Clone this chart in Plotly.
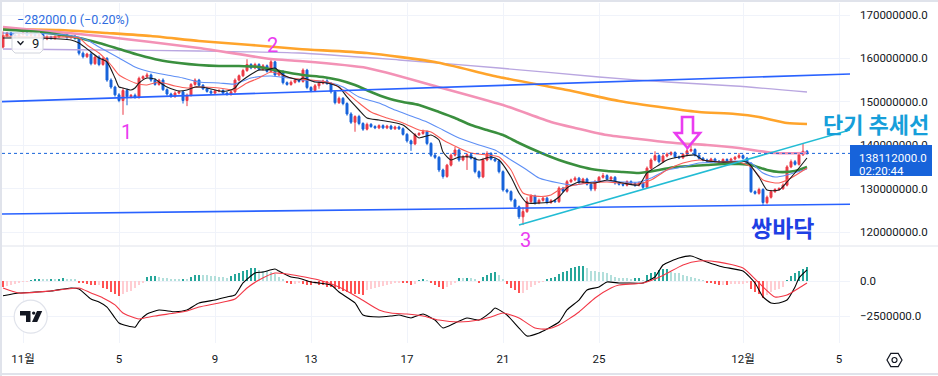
import pandas as pd
import plotly.graph_objects as go

# ---------------- data (prices in millions of KRW) ----------------
START = "2025-10-31 04:00"          # first visible 4h candle
FIRST_OPEN = 162.6
CLOSE = [
    165.2, 165.8, 165.4, 165.0, 165.5, 165.8, 165.3, 165.6, 165.2, 165.5,
    164.5, 164.9, 164.6, 165.0, 165.3, 165.4, 164.8, 165.1, 164.6, 161.2,
    160.4, 161.0, 158.8, 160.3, 158.6, 160.0, 155.0, 153.4, 151.6, 150.3,
    152.6, 151.2, 151.5, 151.0, 155.4, 155.8, 156.2, 155.0, 154.0, 155.0,
    152.8, 151.8, 151.2, 152.0, 152.3, 150.3, 151.5, 154.0, 155.0, 153.8,
    153.0, 152.4, 152.0, 152.5, 152.6, 152.0, 151.7, 152.3, 155.0, 156.0,
    157.2, 158.6, 157.8, 158.6, 157.5, 158.3, 157.0, 159.2, 156.2, 157.0,
    154.4, 154.0, 154.5, 155.0, 154.7, 157.3, 153.3, 152.6, 153.7, 154.3,
    154.8, 154.2, 152.3, 149.8, 150.8, 149.6, 147.2, 145.3, 146.6, 145.0,
    143.7, 144.8, 144.3, 144.0, 144.5, 144.0, 144.4, 143.8, 144.2, 143.8,
    142.5, 141.0, 140.3, 142.4, 142.7, 143.1, 140.4, 137.7, 137.2, 134.3,
    132.8, 135.4, 137.7, 138.9, 136.6, 137.3, 137.8, 137.0, 133.9, 132.7,
    136.6, 138.1, 136.8, 136.4, 133.9, 129.7, 129.3, 127.4, 125.8, 123.5,
    124.7, 127.0, 128.3, 126.7, 127.3, 127.8, 126.8, 127.2, 127.0, 130.1,
    129.4, 131.6, 132.0, 132.4, 131.4, 132.2, 131.0, 129.9, 131.6, 132.6,
    133.0, 132.2, 132.6, 131.3, 131.0, 130.8, 131.6, 131.2, 130.8, 131.3,
    130.3, 134.7, 136.6, 137.6, 136.2, 137.5, 137.9, 138.3, 137.3, 137.1,
    137.9, 138.7, 139.0, 137.7, 137.0, 136.6, 136.3, 136.8, 136.3, 136.2,
    136.7, 136.4, 136.8, 137.2, 137.6, 137.0, 135.8, 129.3, 128.9, 129.8,
    126.8, 128.0, 129.3, 129.8, 130.0, 130.8, 135.0, 136.2, 135.6, 137.8,
    138.6, 138.112,
]
UPPER_WICK = [
    1.0, 0.3, 0.3, 0.4, 0.3, 0.2, 0.3, 0.4, 0.3, 0.2,
    0.3, 0.4, 0.3, 0.3, 0.4, 0.3, 0.3, 0.2, 0.3, 0.3,
    0.4, 0.3, 0.5, 0.3, 0.4, 0.3, 0.3, 0.4, 0.3, 0.4,
    0.6, 0.5, 0.3, 0.4, 0.4, 0.3, 0.5, 0.3, 0.4, 0.3,
    0.4, 0.3, 0.3, 0.4, 0.3, 0.3, 0.4, 0.3, 0.4, 0.3,
    0.3, 0.3, 0.4, 0.3, 0.3, 0.3, 0.3, 0.3, 0.4, 0.3,
    0.4, 1.2, 0.3, 0.4, 0.3, 0.4, 0.3, 0.8, 0.3, 0.4,
    0.3, 0.3, 0.4, 0.3, 0.3, 0.4, 0.3, 0.3, 0.4, 0.5,
    0.3, 0.4, 0.3, 0.3, 0.4, 0.3, 0.3, 0.4, 0.3, 0.4,
    0.3, 0.4, 0.3, 0.3, 0.3, 0.3, 0.3, 0.3, 0.3, 0.3,
    0.3, 0.3, 0.3, 0.4, 0.3, 0.5, 0.3, 0.3, 0.3, 0.3,
    0.3, 0.3, 0.4, 0.7, 0.3, 0.4, 0.3, 0.4, 0.3, 0.3,
    0.5, 0.5, 0.3, 0.3, 0.3, 0.3, 0.3, 0.3, 0.3, 0.3,
    1.0, 1.0, 0.4, 0.3, 0.4, 0.3, 0.3, 0.4, 0.3, 0.4,
    0.3, 0.4, 0.3, 0.4, 0.3, 0.3, 0.3, 0.3, 0.4, 0.3,
    0.6, 0.3, 0.3, 0.3, 0.3, 0.3, 0.3, 0.3, 0.3, 0.3,
    0.3, 0.4, 0.4, 1.0, 0.3, 0.4, 0.4, 0.3, 0.3, 0.3,
    0.3, 0.9, 1.0, 0.3, 0.3, 0.3, 0.3, 0.3, 0.3, 0.3,
    0.3, 0.3, 0.3, 0.3, 0.6, 0.3, 0.3, 0.3, 0.3, 0.4,
    0.3, 0.4, 0.4, 0.3, 0.3, 0.4, 0.4, 0.5, 0.4, 0.5,
    1.7, 0.3,
]
LOWER_WICK = [
    0.3, 0.3, 0.3, 0.3, 0.3, 0.3, 0.3, 0.3, 0.3, 0.3,
    0.3, 0.3, 0.3, 0.3, 0.3, 0.3, 0.3, 0.3, 0.3, 0.5,
    0.4, 0.3, 0.4, 0.3, 0.4, 0.3, 0.4, 0.4, 0.4, 0.4,
    3.3, 2.0, 0.4, 0.3, 0.3, 0.3, 0.3, 0.4, 0.3, 0.3,
    0.3, 0.4, 0.3, 0.3, 0.3, 0.7, 1.3, 0.3, 0.3, 0.3,
    0.3, 0.3, 0.3, 0.3, 0.3, 0.3, 0.3, 0.3, 0.3, 0.3,
    0.3, 0.3, 0.3, 0.3, 0.3, 0.3, 0.3, 0.3, 0.4, 0.3,
    0.4, 0.3, 0.3, 0.3, 0.3, 0.3, 0.4, 0.4, 0.3, 0.7,
    0.3, 0.3, 0.4, 0.4, 0.3, 0.4, 0.4, 0.4, 2.2, 0.4,
    0.4, 0.3, 0.3, 0.3, 0.3, 0.3, 0.3, 0.3, 0.3, 0.3,
    0.3, 0.4, 1.6, 0.3, 0.3, 0.3, 0.4, 0.4, 0.4, 0.5,
    0.5, 0.3, 0.3, 0.3, 0.4, 0.3, 3.0, 0.3, 0.4, 0.4,
    0.3, 0.3, 0.3, 0.3, 0.4, 0.4, 0.4, 0.4, 0.4, 0.5,
    1.9, 0.3, 0.3, 0.4, 0.3, 0.3, 0.4, 0.3, 0.3, 0.3,
    0.3, 0.3, 0.3, 0.3, 0.3, 0.3, 0.3, 0.5, 0.5, 0.3,
    0.3, 0.3, 0.3, 0.4, 0.3, 0.3, 0.3, 0.3, 0.4, 0.3,
    0.4, 0.3, 0.3, 0.3, 0.4, 0.3, 0.3, 0.3, 0.3, 0.3,
    0.3, 0.3, 0.3, 0.3, 0.3, 0.3, 0.3, 0.3, 0.3, 0.3,
    0.3, 0.3, 0.3, 0.3, 0.3, 0.3, 0.3, 0.3, 0.3, 0.3,
    0.8, 0.4, 0.3, 0.3, 0.3, 0.3, 0.3, 0.3, 0.3, 0.3,
    0.3, 0.3,
]
LAST_PRICE = 138.112

# moving-average lines, sampled at candle numbers (1 = first candle)
BLACK_IDX = [1, 10, 18, 20, 23, 25, 27, 29, 30, 31, 33, 34, 35, 37, 39, 40, 42, 44, 45, 47,
             49, 50, 52, 54, 55, 57, 59, 60, 62, 64, 65, 67, 69, 71, 75, 76, 79, 82, 85, 87,
             90, 92, 95, 98, 101, 104, 105, 108, 110, 111, 113, 115, 118, 120, 123, 125, 128, 130, 132, 135,
             138, 140, 142, 145, 149, 152, 156, 160, 162, 165, 167, 170, 174, 176, 180, 184, 187, 190, 192, 195,
             197, 200, 202]
BLACK_VAL = [164.70, 164.70, 164.24, 163.55, 161.48, 160.09, 159.17, 155.48, 153.41, 153.18,
             152.72, 153.18, 154.33, 155.48, 155.25, 154.56, 153.41, 152.72, 152.49, 152.72,
             153.41, 153.41, 153.18, 152.72, 152.49, 152.49, 153.18, 154.33, 155.72, 156.87,
             157.33, 157.33, 157.79, 156.18, 155.02, 155.48, 154.56, 154.33, 153.41, 151.11,
             148.11, 146.27, 145.81, 145.35, 144.66, 142.35, 141.66, 142.35, 141.20, 138.43,
             136.59, 137.28, 137.28, 136.59, 137.28, 136.59, 132.67, 128.99, 126.69, 126.69,
             126.92, 128.07, 130.14, 131.52, 131.29, 131.98, 131.29, 130.83, 133.60, 135.44,
             136.59, 137.28, 137.74, 136.59, 136.13, 136.13, 136.13, 132.67, 129.68, 129.68,
             131.52, 134.75, 137.05]
RED_IDX = [1, 10, 20, 22, 25, 28, 30, 34, 37, 40, 44, 47, 50, 55, 59, 62, 65, 68, 73, 78,
           83, 86, 90, 93, 97, 101, 105, 108, 111, 115, 118, 122, 125, 128, 131, 135, 138, 140, 144, 148,
           152, 155, 160, 163, 167, 171, 175, 180, 185, 188, 191, 195, 198, 202]
RED_VAL = [165.16, 164.93, 164.70, 163.09, 161.24, 158.48, 156.18, 154.33, 153.87, 154.56,
           153.64, 153.18, 153.41, 153.18, 152.72, 154.33, 155.48, 156.87, 155.48, 155.02,
           154.33, 152.72, 149.72, 147.65, 146.27, 145.12, 143.50, 143.04, 141.20, 139.36,
           138.20, 137.74, 137.28, 134.29, 129.00, 128.20, 128.53, 129.68, 130.83, 131.29,
           131.52, 131.29, 131.06, 131.98, 134.29, 135.90, 136.59, 136.13, 136.13, 134.98,
           131.98, 131.29, 132.44, 134.75]
BLUE_IDX = [1, 17, 22, 25, 30, 34, 38, 42, 46, 50, 55, 59, 63, 68, 76, 82, 86, 90, 95, 99,
            103, 107, 111, 115, 120, 124, 128, 132, 135, 140, 144, 148, 152, 156, 160, 163, 167, 171, 175, 180,
            185, 188, 191, 194, 197, 202]
BLUE_VAL = [165.85, 165.39, 164.24, 162.63, 160.09, 158.02, 156.87, 156.18, 155.48, 154.56,
            154.33, 154.10, 155.48, 155.95, 155.02, 154.56, 153.41, 151.11, 149.72, 148.11,
            146.73, 145.35, 143.50, 141.66, 140.05, 138.89, 136.59, 134.29, 132.44, 131.29,
            130.83, 131.52, 131.75, 131.52, 131.52, 132.44, 134.29, 134.98, 135.90, 136.13,
            136.36, 135.90, 133.60, 132.67, 133.14, 134.52]
GREEN_IDX = [1, 10, 20, 25, 30, 35, 40, 45, 50, 55, 60, 65, 70, 76, 81, 85, 89, 93, 97, 101,
             105, 110, 114, 118, 122, 126, 130, 135, 140, 144, 148, 152, 156, 160, 165, 169, 173, 177, 181, 185,
             188, 192, 195, 199, 202]
GREEN_VAL = [166.66, 166.08, 164.70, 163.55, 162.17, 160.78, 159.63, 158.94, 158.48, 158.25,
             158.25, 158.02, 157.10, 156.18, 155.72, 155.02, 153.87, 152.26, 150.88, 149.95,
             149.26, 147.65, 146.27, 144.66, 143.50, 142.35, 140.51, 138.43, 136.59, 135.44,
             134.52, 134.06, 133.83, 133.60, 134.29, 134.98, 135.21, 135.44, 135.67, 135.67,
             135.44, 134.29, 133.83, 134.06, 134.98]
PINK_IDX = [1, 25, 50, 68, 75, 92, 109, 126, 138, 144, 152, 160, 169, 177, 185, 194, 202]
PINK_VAL = [167.24, 165.16, 162.40, 159.86, 159.40, 157.79, 153.64, 149.26, 145.35, 143.97,
            142.35, 141.43, 140.51, 140.05, 139.36, 138.20, 138.20]
ORANGE_IDX = [1, 15, 27, 38, 50, 63, 75, 92, 109, 125, 142, 155, 167, 175, 184, 190, 197, 202]
ORANGE_VAL = [166.77, 166.54, 165.85, 165.16, 164.01, 163.09, 162.17, 161.24, 159.17, 155.72,
              152.72, 150.18, 148.57, 147.65, 147.19, 146.50, 145.12, 144.89]
PURPLE_IDX = [1, 25, 50, 75, 100, 125, 150, 167, 184, 202]
PURPLE_VAL = [162.17, 161.94, 161.71, 161.24, 159.63, 157.79, 155.72, 154.56, 153.64, 152.26]

# MACD (millions)
MACD_IDX = [1, 5, 13, 18, 20, 23, 25, 27, 29, 30, 32, 34, 35, 37, 40, 44, 47, 50, 54, 57,
            59, 61, 64, 66, 69, 70, 73, 75, 78, 80, 83, 85, 89, 91, 95, 98, 100, 103, 106, 109,
            111, 114, 117, 120, 123, 124, 127, 130, 132, 135, 137, 140, 142, 145, 147, 150, 152, 155, 157, 161,
            164, 166, 170, 173, 177, 181, 186, 189, 191, 193, 195, 197, 199, 200, 202]
MACD_VAL = [-1.05, -0.86, -0.71, -0.50, -0.57, -1.29, -1.50, -1.86, -2.64, -3.00,
            -3.20, -3.30, -2.90, -2.36, -2.07, -2.20, -2.07, -1.57, -1.36, -1.14,
            -1.00, -0.14, 0.57, 0.64, 0.86, 0.71, 0.29, 0.20, -0.07, -0.14,
            -0.29, -0.79, -1.57, -2.43, -2.57, -2.50, -2.43, -2.64, -2.36, -2.79,
            -3.36, -3.00, -2.64, -2.79, -2.21, -1.93, -2.43, -3.36, -3.93, -3.71,
            -3.43, -2.93, -2.07, -1.36, -0.64, -0.43, -0.07, -0.14, -0.14, -0.14,
            0.29, 1.14, 1.64, 1.79, 1.36, 1.00, 0.71, -0.14, -1.14, -1.57,
            -1.57, -1.36, -0.43, 0.21, 0.79]
SIGNAL_IDX = [1, 5, 13, 17, 20, 23, 26, 29, 31, 34, 35, 39, 44, 47, 50, 55, 59, 62, 65, 69,
              72, 75, 80, 85, 90, 95, 98, 102, 106, 110, 115, 120, 123, 126, 130, 134, 137, 140, 145, 149,
              153, 155, 161, 166, 171, 175, 180, 186, 190, 194, 197, 200, 202]
SIGNAL_VAL = [-0.50, -0.86, -0.71, -0.57, -0.50, -0.86, -1.21, -1.71, -2.29, -2.64,
              -2.71, -2.50, -2.29, -2.14, -1.86, -1.57, -1.29, -0.50, 0.07, 0.57,
              0.50, 0.36, 0.07, -0.43, -1.21, -2.07, -2.29, -2.36, -2.50, -2.79,
              -2.93, -2.79, -2.57, -2.29, -2.64, -3.36, -3.43, -3.14, -2.21, -1.21,
              -0.50, -0.29, -0.14, 0.40, 1.15, 1.43, 1.35, 0.93, -0.14, -1.14,
              -1.00, -0.50, -0.14]
HIST = [
    -0.40, -0.35, -0.30, -0.20, -0.12, -0.05, -0.02, 0.05, 0.08, 0.10,
    0.10, 0.10, 0.12, 0.10, 0.15, 0.20, 0.15, 0.12, 0.10, -0.10,
    -0.12, -0.18, -0.25, -0.30, -0.30, -0.50, -0.60, -0.80, -0.95, -1.05,
    -0.90, -0.78, -0.70, -0.50, -0.30, -0.10, 0.30, 0.36, 0.37, 0.30,
    0.24, 0.20, 0.15, 0.12, 0.10, 0.15, 0.12, 0.30, 0.40, 0.43,
    0.43, 0.40, 0.35, 0.33, 0.30, 0.28, 0.22, 0.35, 0.50, 0.60,
    0.70, 0.80, 0.90, 0.92, 0.80, 0.70, 0.68, 0.62, 0.50, 0.30,
    0.12, -0.17, -0.22, -0.18, -0.10, -0.18, -0.28, -0.30, -0.20, -0.25,
    -0.29, -0.40, -0.45, -0.52, -0.60, -0.68, -0.76, -0.85, -0.92, -0.95,
    -0.97, -0.64, -0.60, -0.50, -0.42, -0.35, -0.28, -0.20, -0.12, -0.08,
    -0.12, -0.14, -0.25, -0.20, 0.07, 0.10, 0.05, -0.17, -0.29, -0.40,
    -0.55, -0.45, -0.30, -0.12, 0.20, 0.20, 0.25, 0.25, 0.15, -0.17,
    0.30, 0.45, 0.55, 0.64, 0.40, 0.10, -0.20, -0.50, -0.65, -0.88,
    -0.88, -0.64, -0.40, -0.29, -0.17, -0.07, 0.12, 0.19, 0.31, 0.48,
    0.67, 0.74, 0.90, 1.02, 1.07, 1.08, 0.90, 0.74, 0.74, 0.67,
    0.67, 0.55, 0.43, 0.31, 0.24, 0.20, 0.20, 0.12, 0.19, 0.20,
    0.07, 0.43, 0.55, 0.67, 0.79, 0.83, 0.86, 0.67, 0.60, 0.55,
    0.43, 0.36, 0.26, 0.19, 0.10, 0.05, -0.10, -0.17, -0.24, -0.29,
    -0.29, -0.30, -0.24, -0.24, -0.19, -0.19, -0.15, -0.60, -0.80, -0.95,
    -1.20, -1.00, -0.76, -0.64, -0.60, -0.40, 0.07, 0.36, 0.55, 0.74,
    0.83, 0.98,
]

# drawn trend lines (time, price)
TREND_UPPER_T = ["2025-10-31 03:00", "2025-12-05 11:00"]
TREND_UPPER_V = [150.03, 156.41]
TREND_LOWER_T = ["2025-10-31 03:00", "2025-12-05 11:00"]
TREND_LOWER_V = [124.15, 126.38]
TREND_SHORT_T = ["2025-11-21 16:00", "2025-12-05 11:00"]
TREND_SHORT_V = [121.62, 143.50]

PRICE_TICKS = [120, 130, 140, 150, 160, 170]
PRICE_TICKTEXT = ["120000000.0", "130000000.0", "140000000.0", "150000000.0", "160000000.0", "170000000.0"]
MACD_TICKS = [0, -2.5]
MACD_TICKTEXT = ["0.0", "\u22122500000.0"]
DATE_TICKS = ["2025-11-01", "2025-11-05", "2025-11-09", "2025-11-13", "2025-11-17",
              "2025-11-21", "2025-11-25", "2025-12-01", "2025-12-05"]
DATE_TICKTEXT = ["11월", "5", "9", "13", "17", "21", "25", "12월", "5"]
X_RANGE = ["2025-10-31 03:00", "2025-12-05 11:00"]

# ---------------- styling / geometry ----------------
M = 1e6
W, H = 938, 376
PL, PR, PT, PB = 2.0, 850.0, 3.0, 343.0


def px(x):
    return (x - PL) / (PR - PL)


def py(y):
    return (PB - y) / (PB - PT)


def path(points, close=True):
    d = "M " + " L ".join(f"{px(x):.5f},{py(y):.5f}" for x, y in points)
    return d + (" Z" if close else "")


FONT = "Roboto, 'Noto Sans CJK KR', sans-serif"
KFONT = "'Noto Sans CJK KR', sans-serif"
UP = "#EB3B47"
DOWN = "#1763DA"
GRID = "#F0F3FA"
TEXT = "#131722"
MAGENTA = "#EA3CF0"

times = pd.date_range(START, periods=len(CLOSE), freq="4h")
opens = [FIRST_OPEN] + CLOSE[:-1]
highs = [max(o, c) + u for o, c, u in zip(opens, CLOSE, UPPER_WICK)]
lows = [min(o, c) - l for o, c, l in zip(opens, CLOSE, LOWER_WICK)]


def tx(idx):
    return [times[i - 1] for i in idx]


fig = go.Figure()

fig.add_trace(go.Candlestick(
    x=times, open=[v * M for v in opens], high=[v * M for v in highs],
    low=[v * M for v in lows], close=[v * M for v in CLOSE],
    increasing=dict(line=dict(color=UP, width=1), fillcolor=UP),
    decreasing=dict(line=dict(color=DOWN, width=1), fillcolor=DOWN),
    whiskerwidth=0, hoverinfo="skip", xaxis="x", yaxis="y"))

ma_specs = [
    (PURPLE_IDX, PURPLE_VAL, "#B9A6E0", 1.3),
    (ORANGE_IDX, ORANGE_VAL, "#FFA42B", 2.6),
    (PINK_IDX, PINK_VAL, "#F392B6", 2.6),
    (GREEN_IDX, GREEN_VAL, "#3A8F3E", 2.6),
    (BLUE_IDX, BLUE_VAL, "#5E8FF5", 1.1),
    (RED_IDX, RED_VAL, "#FA5D57", 1.1),
    (BLACK_IDX, BLACK_VAL, "#1B1B1B", 1.1),
]
for idx, val, color, w in ma_specs:
    fig.add_trace(go.Scatter(
        x=tx(idx), y=[v * M for v in val], mode="lines",
        line=dict(color=color, width=w, shape="spline", smoothing=0.6),
        hoverinfo="skip", xaxis="x", yaxis="y"))

for t, v, color in [(TREND_UPPER_T, TREND_UPPER_V, "#2962FF"),
                    (TREND_LOWER_T, TREND_LOWER_V, "#2962FF"),
                    (TREND_SHORT_T, TREND_SHORT_V, "#22BCD4")]:
    fig.add_trace(go.Scatter(
        x=pd.to_datetime(t), y=[a * M for a in v], mode="lines",
        line=dict(color=color, width=1.6), hoverinfo="skip", xaxis="x", yaxis="y"))

# MACD pane
hist_colors = []
prev = 0.0
for h in HIST:
    if h >= 0:
        hist_colors.append("#26A69A" if h > prev else "#B2DFDB")
    else:
        hist_colors.append("#FF5252" if h < prev else "#FFCDD2")
    prev = h
fig.add_trace(go.Bar(
    x=times, y=[h * M for h in HIST], marker=dict(color=hist_colors, line=dict(width=0)),
    width=4 * 3600 * 1000 * 0.72, hoverinfo="skip", xaxis="x2", yaxis="y2"))
fig.add_trace(go.Scatter(
    x=tx(MACD_IDX), y=[v * M for v in MACD_VAL], mode="lines",
    line=dict(color="#000000", width=1.1, shape="spline", smoothing=0.5),
    hoverinfo="skip", xaxis="x2", yaxis="y2"))
fig.add_trace(go.Scatter(
    x=tx(SIGNAL_IDX), y=[v * M for v in SIGNAL_VAL], mode="lines",
    line=dict(color="#F23645", width=1.1, shape="spline", smoothing=0.6),
    hoverinfo="skip", xaxis="x2", yaxis="y2"))

# ---------------- layout ----------------
main_range = [(170 - (246 - 15) / 4.34) * M, (170 + (15 - 3) / 4.34) * M]
macd_range = [(281 - 343) / 14 * M, (281 - 247) / 14 * M]

shapes = [
    # current price dotted line
    dict(type="line", xref="paper", yref="y", x0=0, x1=1, y0=LAST_PRICE * M, y1=LAST_PRICE * M,
         line=dict(color=DOWN, width=1, dash="dot"), layer="above"),
    # pane separator
    dict(type="line", xref="paper", yref="paper", x0=px(0), x1=px(938), y0=py(246), y1=py(246),
         line=dict(color="#E0E3EB", width=1)),
    # outer frame
    dict(type="line", xref="paper", yref="paper", x0=px(0), x1=px(938), y0=py(1), y1=py(1),
         line=dict(color="#E0E3EB", width=2)),
    dict(type="line", xref="paper", yref="paper", x0=px(1), x1=px(1), y0=py(0), y1=py(376),
         line=dict(color="#E0E3EB", width=2)),
    dict(type="line", xref="paper", yref="paper", x0=px(0), x1=px(938), y0=py(374), y1=py(374),
         line=dict(color="#E0E3EB", width=2)),
    # last price label box
    dict(type="rect", xref="paper", yref="paper", x0=px(850), x1=px(932), y0=py(145), y1=py(176),
         fillcolor=DOWN, line=dict(width=0), layer="above"),
    # collapse box "v 9"
    dict(type="path", xref="paper", yref="paper",
         path=path([(15, 33), (40, 33), (43, 36), (43, 50), (40, 53), (15, 53), (12, 50), (12, 36)]),
         fillcolor="rgba(255,255,255,0.85)", line=dict(color="#D1D4DC", width=1), layer="above"),
    dict(type="path", xref="paper", yref="paper",
         path=path([(17.5, 41.3), (20.5, 44.5), (23.5, 41.3)], close=False),
         line=dict(color=TEXT, width=1.3), layer="above"),
    # magenta hollow arrow
    dict(type="path", xref="paper", yref="paper",
         path=path([(682, 117), (693, 117), (693, 133), (700, 133), (687.5, 148), (675, 133), (682, 133)]),
         line=dict(color=MAGENTA, width=2.6), fillcolor="rgba(0,0,0,0)", layer="above"),
    # TradingView logo
    dict(type="circle", xref="paper", yref="paper", x0=px(14.2), x1=px(47.2), y0=py(333.2), y1=py(300.2),
         fillcolor="white", line=dict(color="#E0E3EB", width=1.2), layer="above"),
    dict(type="path", xref="paper", yref="paper",
         path=path([(20, 311), (30.5, 311), (30.5, 322), (26, 322), (26, 315.5), (20, 315.5)]),
         fillcolor=TEXT, line=dict(width=0), layer="above"),
    dict(type="circle", xref="paper", yref="paper", x0=px(32), x1=px(35.4), y0=py(314.8), y1=py(311.4),
         fillcolor=TEXT, line=dict(width=0), layer="above"),
    dict(type="path", xref="paper", yref="paper",
         path=path([(37, 311), (42.2, 311), (37.2, 322), (32, 322)]),
         fillcolor=TEXT, line=dict(width=0), layer="above"),
    # settings hexagon
    dict(type="path", xref="paper", yref="paper",
         path=path([(902, 360), (898.2, 353.4), (890.8, 353.4), (887, 360), (890.8, 366.6), (898.2, 366.6)]),
         line=dict(color=TEXT, width=1.2), fillcolor="rgba(0,0,0,0)"),
    dict(type="circle", xref="paper", yref="paper", x0=px(892), x1=px(897), y0=py(362.5), y1=py(357.5),
         line=dict(color=TEXT, width=1.2)),
]

annotations = [
    dict(text="\u2212282000.0 (\u22120.20%)", x=px(14.5), y=py(19.5), xanchor="left", yanchor="middle",
         font=dict(size=12.5, color="#2E6CDF", family=FONT)),
    dict(text="9", x=px(35), y=py(43.5), xanchor="center", yanchor="middle",
         font=dict(size=13, color=TEXT, family=FONT)),
    dict(text="1", x=px(126), y=py(131.5), xanchor="center", yanchor="middle",
         font=dict(size=20, color=MAGENTA, family=FONT)),
    dict(text="2", x=px(272.5), y=py(45), xanchor="center", yanchor="middle",
         font=dict(size=20, color=MAGENTA, family=FONT)),
    dict(text="3", x=px(525), y=py(240), xanchor="center", yanchor="middle",
         font=dict(size=20, color=MAGENTA, family=FONT)),
    dict(text="<b>단기 추세선</b>", x=px(821), y=py(123.5), xanchor="left", yanchor="middle",
         font=dict(size=22, color="#169FDA", family=KFONT)),
    dict(text="<b>쌍바닥</b>", x=px(782.5), y=py(227), xanchor="center", yanchor="middle",
         font=dict(size=23, color="#1E40E4", family=KFONT)),
    dict(text="138112000.0", x=px(857), y=py(158), xanchor="left", yanchor="middle",
         font=dict(size=11.5, color="white", family=FONT)),
    dict(text="02:20:44", x=px(857), y=py(170.5), xanchor="left", yanchor="middle",
         font=dict(size=11.5, color="white", family=FONT)),
]
for a in annotations:
    a.update(xref="paper", yref="paper", showarrow=False)

fig.update_layout(
    width=W, height=H, margin=dict(l=2, r=88, t=3, b=33),
    paper_bgcolor="white", plot_bgcolor="white", showlegend=False,
    font=dict(family=FONT, size=11.5, color=TEXT),
    bargap=0,
    xaxis=dict(domain=[0, 1], anchor="y", type="date", range=X_RANGE, tickvals=DATE_TICKS,
               showticklabels=False, showgrid=True, gridcolor=GRID, gridwidth=1, zeroline=False,
               ticks="", rangeslider=dict(visible=False), fixedrange=True),
    yaxis=dict(domain=[py(246), 1], anchor="x", side="right", range=main_range,
               tickvals=[v * M for v in PRICE_TICKS], ticktext=PRICE_TICKTEXT,
               showgrid=True, gridcolor=GRID, gridwidth=1, zeroline=False, ticks="",
               ticklabelstandoff=9, fixedrange=True),
    xaxis2=dict(domain=[0, 1], anchor="y2", type="date", range=X_RANGE, tickvals=DATE_TICKS,
                ticktext=DATE_TICKTEXT, showgrid=True, gridcolor=GRID, gridwidth=1, zeroline=False,
                ticks="", ticklabelstandoff=7, fixedrange=True),
    yaxis2=dict(domain=[0, py(247)], anchor="x2", side="right", range=macd_range,
                tickvals=[v * M for v in MACD_TICKS], ticktext=MACD_TICKTEXT,
                showgrid=True, gridcolor=GRID, gridwidth=1, zeroline=False, ticks="",
                ticklabelstandoff=9, fixedrange=True),
    shapes=shapes, annotations=annotations,
)

fig.write_html("out.html", config={"displayModeBar": False},
               post_script="document.body.style.margin='0px';document.body.style.padding='0px';")
